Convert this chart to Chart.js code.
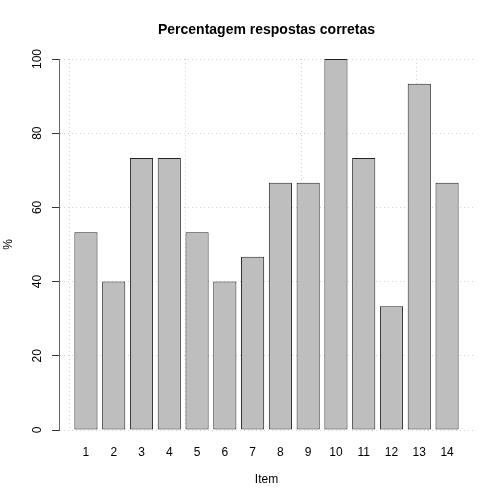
<!DOCTYPE html>
<html>
<head>
<meta charset="utf-8">
<script src="https://cdn.jsdelivr.net/npm/chart.js@4"></script>
<style>
  html, body { margin: 0; padding: 0; background: #fff; }
  #wrap { width: 504px; height: 504px; }
</style>
</head>
<body>
<div id="wrap"><canvas id="myChart" width="504" height="504"></canvas></div>
<script>
// data (15 respondents -> steps of 6.67%)
const items = ['1', '2', '3', '4', '5', '6', '7', '8', '9', '10', '11', '12', '13', '14'];
const percent = [53.33, 40, 73.33, 73.33, 53.33, 40, 46.67, 66.67, 66.67, 100, 73.33, 33.33, 93.33, 66.67];
const yTicks = [0, 20, 40, 60, 80, 100];
const gridX = [0, 5, 10, 15];

// R barplot geometry: width 1, space 0.2 -> centres at 1.2*i - 0.5
const centres = items.map((_, i) => 1.2 * (i + 1) - 0.5);
const xMin = -0.464, xMax = 17.464;

const font = "'Liberation Sans', Arial, Helvetica, sans-serif";
Chart.defaults.font.family = font;
Chart.defaults.color = '#000';

const ctx = document.getElementById('myChart').getContext('2d');
const myChart = new Chart(ctx, {
    type: 'bar',
    data: {
        datasets: [{
            data: percent.map((v, i) => ({ x: centres[i], y: v })),
            backgroundColor: '#bebebe',
            borderColor: '#222',
            borderWidth: 1,
            borderSkipped: false,
            barPercentage: 1 / 1.2,
            categoryPercentage: 1
        }]
    },
    options: {
        responsive: false,
        animation: false,
        layout: { padding: { right: 30 } },
        plugins: {
            legend: { display: false },
            tooltip: { enabled: false },
            title: { display: false }
        },
        scales: {
            x: {
                type: 'linear',
                position: 'bottom',
                offset: false,
                min: xMin,
                max: xMax,
                afterBuildTicks: s => { s.ticks = centres.map(v => ({ value: v })); },
                afterFit: s => { s.height = 74; },
                grid: { display: false, drawTicks: false, offset: false },
                border: { display: false },
                ticks: {
                    autoSkip: false,
                    maxRotation: 0,
                    padding: 15,
                    font: { size: 12 },
                    callback: (v, i) => items[i]
                },
                title: {
                    display: true,
                    text: 'Item',
                    font: { size: 12 },
                    padding: { top: 0, bottom: 16.8 }
                }
            },
            xgrid: {
                type: 'linear',
                position: 'top',
                offset: false,
                min: xMin,
                max: xMax,
                afterBuildTicks: s => { s.ticks = gridX.map(v => ({ value: v })); },
                afterFit: s => { s.height = 59; },
                grid: { color: '#d3d3d3', drawTicks: false, offset: false },
                border: { display: false, dash: [1, 3] },
                ticks: { display: false },
                title: {
                    display: true,
                    text: 'Percentagem respostas corretas',
                    font: { size: 14, weight: 'bold' },
                    color: '#000',
                    padding: { top: 22, bottom: 0 }
                }
            },
            y: {
                min: 0,
                max: 100,
                afterBuildTicks: s => { s.ticks = yTicks.map(v => ({ value: v })); },
                afterFit: s => { s.width = 59; },
                grid: {
                    color: '#d3d3d3',
                    tickColor: '#333',
                    tickLength: 7,
                    tickBorderDash: []
                },
                border: { display: true, color: '#666', width: 1, dash: [1, 3] },
                ticks: {
                    minRotation: 90,
                    maxRotation: 90,
                    crossAlign: 'center',
                    padding: 4,
                    font: { size: 12 }
                },
                title: {
                    display: true,
                    text: '%',
                    font: { size: 12 },
                    padding: { top: 1, bottom: 0 }
                }
            }
        }
    }
});
</script>
</body>
</html>
